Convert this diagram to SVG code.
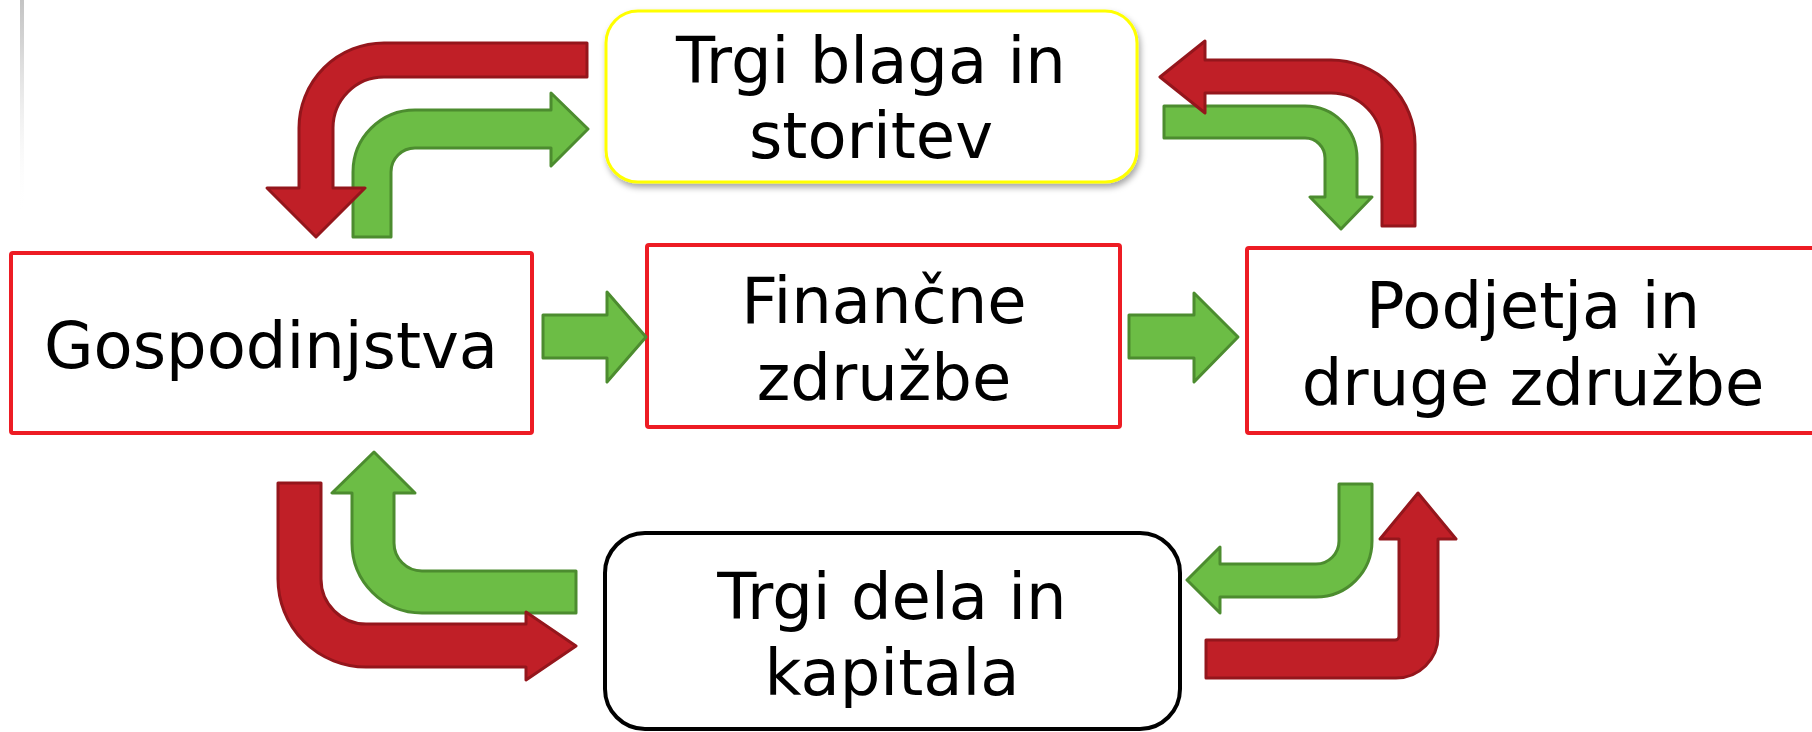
<svg xmlns="http://www.w3.org/2000/svg" width="1812" height="732" viewBox="0 0 1812 732">
  <defs>
    <linearGradient id="edge" x1="0" y1="0" x2="0" y2="1">
      <stop offset="0" stop-color="#c4c4c4"/>
      <stop offset="0.2" stop-color="#d4d4d4"/>
      <stop offset="1" stop-color="#ffffff" stop-opacity="0"/>
    </linearGradient>
    <filter id="shadow" x="-10%" y="-10%" width="120%" height="130%">
      <feDropShadow dx="2" dy="4" stdDeviation="3" flood-color="#000" flood-opacity="0.35"/>
    </filter>
  </defs>
  <style>
    .lbl { font-family: "DejaVu Sans", Verdana, sans-serif; font-size: 64px; fill: #000; text-anchor: middle; }
    .redbox { fill: #fff; stroke: #ed1c24; stroke-width: 4; }
    .red { fill: #c01f27; stroke: #94161c; stroke-width: 3; stroke-linejoin: round; }
    .green { fill: #6cbd45; stroke: #4c8c2f; stroke-width: 3; stroke-linejoin: round; }
  </style>
  <rect width="1812" height="732" fill="#fff"/>
  <rect x="20" y="0" width="4" height="215" fill="url(#edge)"/>

  <g id="node-trgi-blaga">
    <rect x="606" y="11" width="531" height="171" rx="32" fill="#fff" stroke="#ffff00" stroke-width="3" filter="url(#shadow)"/>
    <text class="lbl" x="871" y="83">Trgi blaga in</text>
    <text class="lbl" x="871" y="158">storitev</text>
  </g>
  <g id="node-gospodinjstva">
    <rect class="redbox" x="11" y="253" width="521" height="180" rx="2"/>
    <text class="lbl" x="271" y="368">Gospodinjstva</text>
  </g>
  <g id="node-financne">
    <rect class="redbox" x="647" y="245" width="473" height="182" rx="2"/>
    <text class="lbl" x="884" y="323">Finančne</text>
    <text class="lbl" x="884" y="400">združbe</text>
  </g>
  <g id="node-podjetja">
    <rect class="redbox" x="1247" y="248" width="572" height="185" rx="2"/>
    <text class="lbl" x="1533" y="328">Podjetja in</text>
    <text class="lbl" x="1533" y="405">druge združbe</text>
  </g>
  <g id="node-trgi-dela">
    <rect x="605" y="533" width="575" height="196" rx="40" fill="#fff" stroke="#000" stroke-width="4"/>
    <text class="lbl" x="892" y="619">Trgi dela in</text>
    <text class="lbl" x="892" y="695">kapitala</text>
  </g>

  <g id="connectors">
    <!-- top-left -->
    <path class="green" d="M353,237 L353,172 A62,62 0 0 1 415,110 L551,110 L551,93 L588,129 L551,166 L551,148 L415,148 A24,24 0 0 0 391,172 L391,237 Z"/>
    <path class="red" d="M587,43 L384,43 A85,85 0 0 0 299,128 L299,188 L267,188 L316,237 L365,188 L333,188 L333,128 A51,51 0 0 1 384,77 L587,77 Z"/>
    <!-- top-right -->
    <path class="green" d="M1164,106 L1305,106 A52,52 0 0 1 1357,158 L1357,197 L1372,197 L1341,229 L1310,197 L1325,197 L1325,158 A20,20 0 0 0 1305,138 L1164,138 Z"/>
    <path class="red" d="M1415,226 L1415,144 A84,84 0 0 0 1331,60 L1205,60 L1205,41 L1160,77 L1205,113 L1205,93 L1331,93 A51,51 0 0 1 1382,144 L1382,226 Z"/>
    <!-- middle -->
    <path class="green" d="M543,315 L607,315 L607,292 L646,337 L607,382 L607,358 L543,358 Z"/>
    <path class="green" d="M1129,315 L1194,315 L1194,293 L1238,337 L1194,382 L1194,358 L1129,358 Z"/>
    <!-- bottom-left -->
    <path class="green" d="M576,571 L422,571 A28,28 0 0 1 394,543 L394,493 L415,493 L374,452 L332,493 L352,493 L352,543 A70,70 0 0 0 422,613 L576,613 Z"/>
    <path class="red" d="M278,483 L321,483 L321,579 A45,45 0 0 0 366,624 L526,624 L526,612 L576,646 L526,680 L526,667 L366,667 A88,88 0 0 1 278,579 Z"/>
    <!-- bottom-right -->
    <path class="green" d="M1339,484 L1372,484 L1372,541 A56,56 0 0 1 1316,597 L1220,597 L1220,613 L1187,580 L1220,547 L1220,564 L1316,564 A23,23 0 0 0 1339,541 Z"/>
    <path class="red" d="M1206,640 L1395,640 A4,4 0 0 0 1399,636 L1399,539 L1380,539 L1418,493 L1456,539 L1438,539 L1438,636 A42,42 0 0 1 1396,678 L1206,678 Z"/>
  </g>
</svg>
